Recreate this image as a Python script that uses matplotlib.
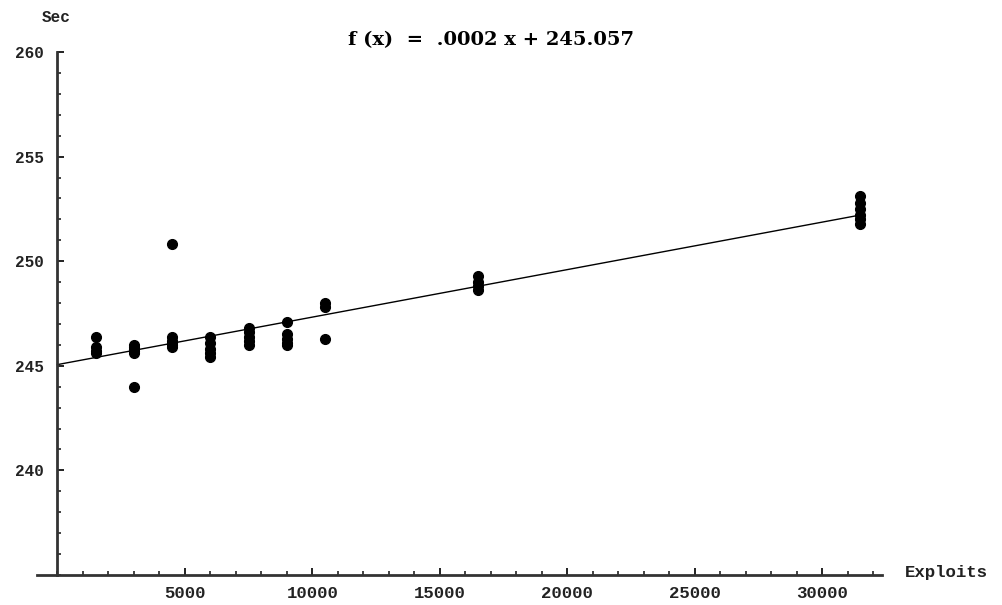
import matplotlib
matplotlib.use("Agg")
import matplotlib.pyplot as plt
import numpy as np
from matplotlib.ticker import MultipleLocator

# run length (seconds) against number of exploits, several runs per setting
exploits = [1500, 1500, 1500, 1500,
            3000, 3000, 3000, 3000, 3000, 3000,
            4500, 4500, 4500, 4500, 4500, 4500,
            6000, 6000, 6000, 6000, 6000,
            7500, 7500, 7500, 7500, 7500,
            9000, 9000, 9000, 9000, 9000,
            10500, 10500, 10500,
            16500, 16500, 16500, 16500,
            31500, 31500, 31500, 31500, 31500, 31500]
seconds = [246.4, 245.9, 245.7, 245.6,
           246.0, 245.9, 245.8, 245.7, 245.6, 244.0,
           250.8, 246.4, 246.2, 246.1, 246.0, 245.9,
           246.4, 246.1, 245.8, 245.6, 245.4,
           246.8, 246.6, 246.4, 246.2, 246.0,
           247.1, 246.5, 246.3, 246.1, 246.0,
           248.0, 247.8, 246.3,
           249.3, 249.0, 248.8, 248.6,
           253.1, 252.8, 252.5, 252.2, 252.0, 251.8]

# fitted line f(x) = slope * x + intercept
slope = 0.000227
intercept = 245.057
fit_x = [0, 31500]

xmajor = [5000, 10000, 15000, 20000, 25000, 30000]
ymajor = [240, 245, 250, 255, 260]

W, H = 1002, 605
fig = plt.figure(figsize=(W / 100, H / 100), dpi=100)
fig.patch.set_facecolor("white")

left, right, top, bottom = 37, 882, 52, 575
ax = fig.add_axes([left / W, 1 - bottom / H, (right - left) / W, (bottom - top) / H])
ax.set_xlim(-800, 32350)
ax.set_ylim(235, 260)

for side in ("top", "right"):
    ax.spines[side].set_visible(False)
ax.spines["left"].set_position(("data", 0))
ax.spines["bottom"].set_position(("data", 235))
for side in ("left", "bottom"):
    ax.spines[side].set_linewidth(2.0)
    ax.spines[side].set_color("#333333")

tick_font = {"family": "Liberation Mono", "weight": "bold"}

ax.set_xticks(xmajor)
ax.set_xticklabels([str(v) for v in xmajor], fontdict=tick_font, fontsize=12.5)
ax.xaxis.set_minor_locator(MultipleLocator(1000))
ax.set_yticks(ymajor)
ax.set_yticklabels([str(v) for v in ymajor], fontdict=tick_font, fontsize=11.5)
ax.yaxis.set_minor_locator(MultipleLocator(1))
ax.tick_params(which="major", direction="in", length=5, width=1.4, color="#222222")
ax.tick_params(which="minor", direction="in", length=3, width=1.2, color="#222222")
ax.tick_params(axis="x", which="major", pad=8, labelcolor="#222222")
ax.tick_params(axis="y", which="major", pad=10, labelcolor="#222222")

xs = np.array(fit_x, dtype=float)
ax.plot(xs, slope * xs + intercept, color="black", linewidth=1.0, zorder=2)
ax.plot(exploits, seconds, "o", color="black", markersize=7.0, zorder=3)

fig.text(56 / W, 1 - 18 / H, "Sec", ha="center", va="center",
         fontdict=tick_font, fontsize=11.5, color="#222222")
fig.text(905 / W, 1 - 573 / H, "Exploits", ha="left", va="center",
         fontdict=tick_font, fontsize=12.5, color="#222222")

label = f"f (x)  =  {slope:.4f}".replace("0.", ".", 1) + f" x + {intercept:.3f}"
fig.text(491 / W, 1 - 40 / H, label, ha="center", va="center",
         family="DejaVu Serif", weight="bold", fontsize=14)

fig.savefig("out.png", dpi=100, facecolor="white")
plt.close(fig)
